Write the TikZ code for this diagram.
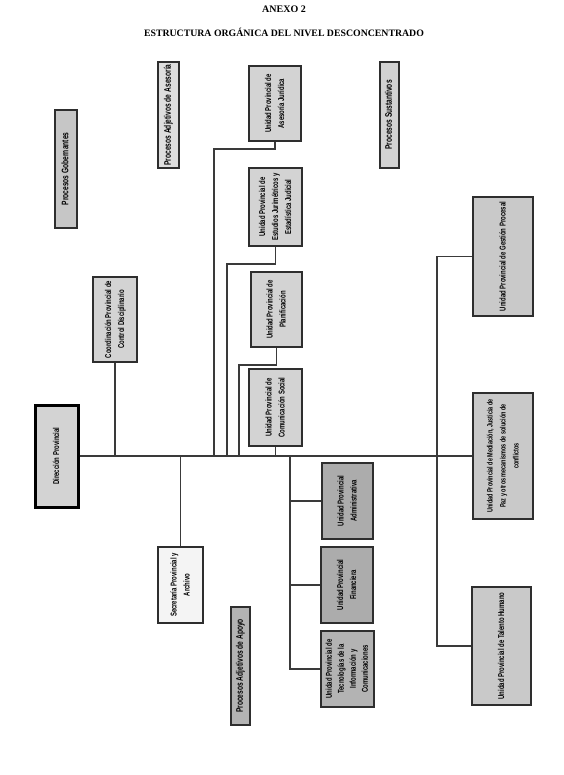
\documentclass[tikz,border=0pt]{standalone}
\usepackage{fontspec,graphicx}
\setmainfont{Liberation Serif}
\newfontfamily\unitfont[FakeStretch=0.7]{Liberation Sans}
\usetikzlibrary{positioning}
\definecolor{wire}{HTML}{3A3A3A}
\definecolor{edge}{HTML}{2E2E2E}
\definecolor{gob}{HTML}{C6C6C6}
\definecolor{ase}{HTML}{DEDEDE}
\definecolor{sus}{HTML}{D2D2D2}
\definecolor{upp}{HTML}{D3D3D3}
\definecolor{sec}{HTML}{F4F4F4}
\definecolor{apo}{HTML}{B3B3B3}
\definecolor{adm}{HTML}{ACACAC}
\definecolor{rgt}{HTML}{C9C9C9}
\newcommand{\vlab}[1]{\rotatebox{90}{\begin{tabular}{@{}c@{}}#1\end{tabular}}}
\tikzset{
  ubox/.style={draw=edge,line width=1.3pt,fill=#1,inner sep=0pt,font={\unitfont\bfseries\fontsize{8.5}{13}\selectfont}},
  pbox/.style={ubox=#1,font={\unitfont\bfseries\fontsize{9.5}{12}\selectfont}},
  link/.style={draw=wire,line width=1.4pt},
}
\begin{document}
\begin{tikzpicture}[x=1pt,y=-1pt]
\useasboundingbox (0,0) rectangle (563,775);
\node[font=\bfseries\fontsize{10}{12}\selectfont] (anx) at (284,9) {ANEXO 2};
\node[font=\bfseries\fontsize{9.8}{12}\selectfont] (tit) at (284,32) {ESTRUCTURA ORGÁNICA DEL NIVEL DESCONCENTRADO};
\node[pbox=gob,minimum width=22,minimum height=118] (gobn) at (66,169) {\vlab{Procesos Gobernantes}};
\node[pbox=ase,minimum width=21,minimum height=106] (asen) at (168.5,115) {\vlab{Procesos Adjetivos de Asesoría}};
\node[pbox=sus,minimum width=19,minimum height=106] (susn) at (389.5,115) {\vlab{Procesos Sustantivos}};
\node[pbox=apo,minimum width=19,minimum height=118] (apon) at (240.5,666) {\vlab{Procesos Adjetivos de Apoyo}};
\node[ubox=upp,minimum width=52,minimum height=75] (jur) at (275,103.5) {\vlab{Unidad Provincial de\\Asesoría Jurídica}};
\node[ubox=upp,minimum width=53,minimum height=78] (est) at (275.5,207) {\vlab{Unidad Provincial de\\Estudios Jurimétricos y\\Estadística Judicial}};
\node[ubox=upp,minimum width=51,minimum height=75] (pla) at (276.5,309.5) {\vlab{Unidad Provincial de\\Planificación}};
\node[ubox=upp,minimum width=53,minimum height=77] (com) at (275.5,407.5) {\vlab{Unidad Provincial de\\Comunicación Social}};
\node[ubox=upp,minimum width=44,minimum height=85] (cod) at (115,319.5) {\vlab{Coordinación Provincial de\\Control Disciplinario}};
\node[ubox=upp,draw=black,line width=3pt,minimum width=43,minimum height=102] (dir) at (56.5,456) {\vlab{Dirección Provincial}};
\node[ubox=sec,minimum width=45,minimum height=76] (secn) at (180.5,585) {\vlab{Secretaría Provincial y\\Archivo}};
\node[ubox=adm,minimum width=51,minimum height=76] (admn) at (347.5,501) {\vlab{Unidad Provincial\\Administrativa}};
\node[ubox=adm,minimum width=52,minimum height=76] (fin) at (347,585) {\vlab{Unidad Provincial\\Financiera}};
\node[ubox=apo,minimum width=53,minimum height=76,font={\unitfont\bfseries\fontsize{8.5}{12}\selectfont}] (tic) at (347.5,669) {\vlab{Unidad Provincial de\\Tecnologías de la\\Información y\\Comunicaciones}};
\node[ubox=rgt,minimum width=60,minimum height=119] (ges) at (503,256.5) {\vlab{Unidad Provincial de Gestión Procesal}};
\node[ubox=rgt,minimum width=60,minimum height=126,font={\unitfont\bfseries\fontsize{7.8}{13}\selectfont}] (med) at (503,456) {\vlab{Unidad Provincial de Mediación, Justicia de\\Paz y otros mecanismos de solución de\\conflictos}};
\node[ubox=rgt,minimum width=59,minimum height=118] (tal) at (501.5,646) {\vlab{Unidad Provincial de Talento Humano}};
\coordinate (jb) at (214,149);
\coordinate (eb) at (227,264);
\coordinate (pb) at (239,365);
\coordinate (lb) at (290,456);
\coordinate (rb) at (437,456);
\draw[link] (dir.east) -- (med.west);
\draw[link] (cod.south) -- (cod.south |- dir.east);
\draw[link] (jur.south) |- (jb) -- (jb |- dir.east);
\draw[link] (est.south) |- (eb) -- (eb |- dir.east);
\draw[link] (pla.south) |- (pb) -- (pb |- dir.east);
\draw[link] (com.south) -- (com.south |- dir.east);
\draw[link] (secn.north) -- (secn.north |- dir.east);
\draw[link] (lb) |- (tic.west);
\draw[link] (admn.west -| lb) -- (admn.west);
\draw[link] (fin.west -| lb) -- (fin.west);
\draw[link] (ges.west) -| (rb) |- (tal.west);
\end{tikzpicture}
\end{document}
